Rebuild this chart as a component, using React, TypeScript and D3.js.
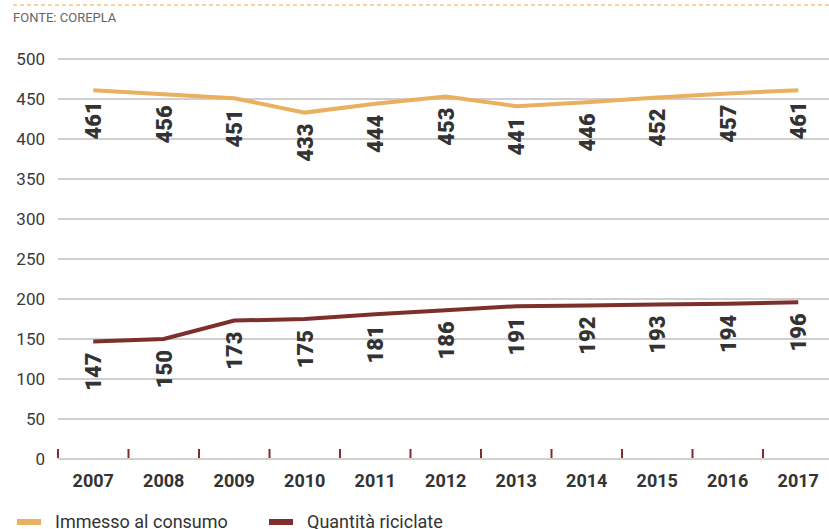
import React from "react";
import * as d3 from "d3";

const years = ["2007","2008","2009","2010","2011","2012","2013","2014","2015","2016","2017"];
const immesso = [461,456,451,433,444,453,441,446,452,457,461];
const riciclate = [147,150,173,175,181,186,191,192,193,194,196];
const yTicks = [0,50,100,150,200,250,300,350,400,450,500];
const seriesNames = ["Immesso al consumo", "Quantità riciclate"];
const seriesColors = ["#E9B060", "#7D2F2B"];

export default function App() {
  const W = 829, H = 529;
  const x = d3.scaleBand<string>().domain(years).range([58, 58 + 70.5 * years.length]).padding(0);
  const y = d3.scaleLinear().domain([0, 500]).range([459, 59]);
  const cx = (yr: string) => (x(yr) as number) + x.bandwidth() / 2;
  const line = d3.line<number>().x((_, i) => cx(years[i])).y(d => y(d));
  const series = [immesso, riciclate];
  const font = "Roboto, 'Noto Sans', sans-serif";
  return (
    <svg width={W} height={H} style={{ position: "absolute", left: 0, top: 0, background: "#fff" }} fontFamily={font}>
      <line x1={13} x2={829} y1={5} y2={5} stroke="#F5A83A" strokeWidth={1} strokeDasharray="4,3" />
      <text x={13} y={22} fontSize={13} fill="#666">FONTE: COREPLA</text>
      {yTicks.map(t => (
        <g key={t}>
          <line x1={58} x2={829} y1={y(t)} y2={y(t)} stroke="#a0a0a0" strokeWidth={1.2} />
          <text x={45} y={y(t)} dy="0.35em" textAnchor="end" fontSize={17} fill="#3a3a3a">{t}</text>
        </g>
      ))}
      {years.map(yr => (
        <line key={"tk" + yr} x1={x(yr) as number} x2={x(yr) as number} y1={449} y2={458} stroke="#7D2F2B" strokeWidth={2} />
      ))}
      {years.map(yr => (
        <text key={"yl" + yr} x={cx(yr)} y={487} textAnchor="middle" fontSize={18} fontWeight="bold" fill="#333">{yr}</text>
      ))}
      {series.map((s, si) => (
        <path key={"ln" + si} d={line(s) as string} fill="none" stroke={seriesColors[si]} strokeWidth={4} />
      ))}
      {series.map((s, si) => s.map((v, i) => (
        <text key={"v" + si + i} transform={`translate(${cx(years[i]) + 8},${y(v) + 11}) rotate(-90)`} textAnchor="end" fontSize={22} fontWeight={900} fill="#333">{v}</text>
      )))}
      {seriesNames.map((n, i) => {
        const lx = i === 0 ? 17 : 269;
        return (
          <g key={"lg" + i}>
            <rect x={lx} y={519} width={24} height={6} fill={seriesColors[i]} />
            <text x={lx + 38} y={528} fontSize={18} fill="#333">{n}</text>
          </g>
        );
      })}
    </svg>
  );
}
